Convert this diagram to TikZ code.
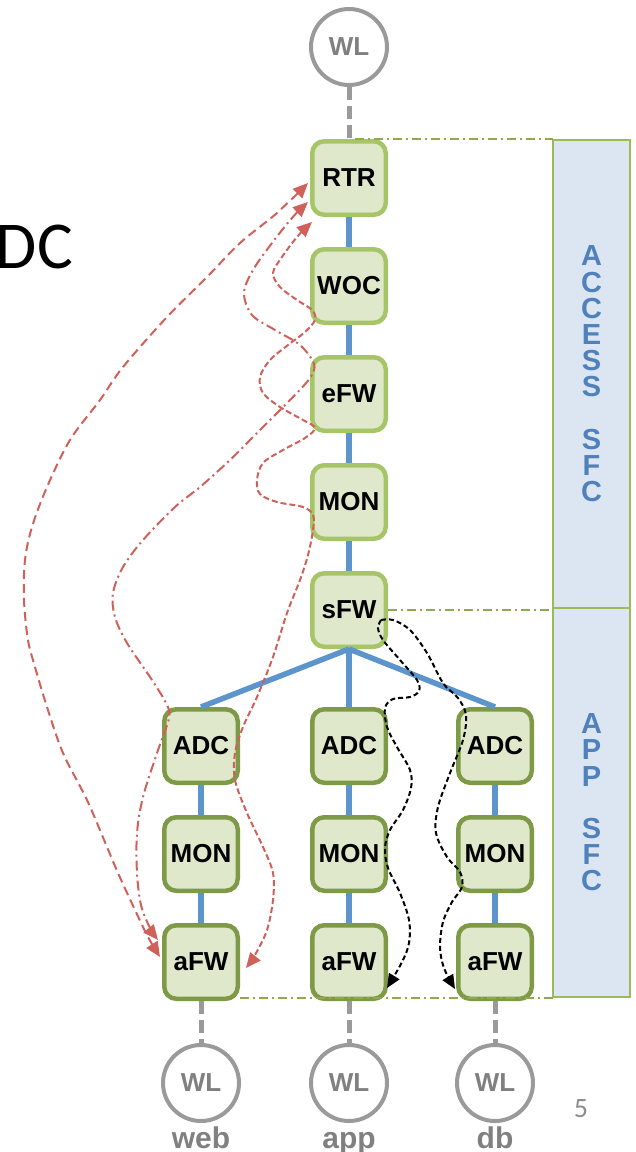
\documentclass[tikz,border=0pt]{standalone}
\usepackage{fontspec}
\setmainfont{Liberation Sans}
\newfontfamily\dcfont{Carlito}
\usetikzlibrary{arrows.meta}
\definecolor{boxfill}{HTML}{DFE8CB}
\definecolor{accborder}{HTML}{A6C566}
\definecolor{appborder}{HTML}{7E9A46}
\definecolor{linkblue}{HTML}{5B95CC}
\definecolor{redpath}{HTML}{D0605A}
\definecolor{wlgray}{HTML}{9A9A9A}
\definecolor{txtgray}{HTML}{808080}
\definecolor{sidefill}{HTML}{DCE6F2}
\definecolor{sideborder}{HTML}{9BBB59}
\definecolor{sfcblue}{HTML}{4F81BD}
\definecolor{guide}{HTML}{8FAA4E}
\begin{document}
\begin{tikzpicture}[x=1pt,y=-1pt,
  vnf/.style={draw, fill=boxfill, rounded corners=12pt, minimum width=73.5pt, minimum height=73.5pt,
    line width=4.5pt, inner sep=0pt, font=\bfseries\fontsize{26}{30}\selectfont},
  acc/.style={vnf, draw=accborder},
  app/.style={vnf, draw=appborder},
  wl/.style={circle, draw=wlgray, line width=4pt, fill=white, minimum size=76pt, inner sep=0pt,
    text=txtgray, font=\bfseries\fontsize{26}{30}\selectfont},
  link/.style={linkblue, line width=5.5pt},
  wire/.style={wlgray, line width=5pt, dash pattern=on 13pt off 6pt},
  guideline/.style={guide, line width=1.5pt, dash pattern=on 9pt off 4pt on 2pt off 4pt},
  sidebox/.style={draw=sideborder, fill=sidefill, line width=1.5pt, minimum width=77pt, inner sep=0pt, outer sep=0pt,
    align=center, text=sfcblue, font=\bfseries\fontsize{29}{26.2}\selectfont},
  redtip/.style={{Triangle[length=15pt,width=13pt]}-{Triangle[length=15pt,width=13pt]}},
  redlong/.style={redpath, line width=2pt, dash pattern=on 9pt off 5pt, redtip},
  reddot/.style={redpath, line width=2pt, dash pattern=on 10pt off 4pt on 2pt off 4pt, redtip},
  redshort/.style={redpath, line width=2pt, dash pattern=on 6pt off 3pt, redtip},
  blackpath/.style={black, line width=2pt, dash pattern=on 5pt off 3pt, -{Triangle[length=14pt,width=12pt]}},
  wlname/.style={text=txtgray, font=\bfseries\fontsize{30}{34}\selectfont, anchor=base, inner sep=0pt}
]
\useasboundingbox (0,0) rectangle (635,1152);

% side panels
\node[sidebox, minimum height=468pt] (accside) at (591.5,374) {A\\C\\C\\E\\S\\S\\[26.2pt]S\\F\\C};
\node[sidebox, minimum height=389pt] (appside) at (591.5,802.5) {A\\P\\P\\[26.2pt]S\\F\\C};

% title fragment and page number
\node[anchor=base east, inner sep=0pt, font=\dcfont\fontsize{67}{80}\selectfont] (dc) at (73,268) {DC};
\node[anchor=base, inner sep=0pt, text=txtgray!90, font=\dcfont\fontsize{28}{30}\selectfont] (pg) at (581,1117) {5};

% workloads
\node[wl] (WLt) at (349,47) {WL};
\node[wl] (WLl) at (201,1083) {WL};
\node[wl] (WLm) at (349,1083) {WL};
\node[wl] (WLr) at (495,1083) {WL};
\node[wlname] (web) at (201,1148) {web};
\node[wlname] (appl) at (349,1148) {app};
\node[wlname] (db) at (495,1148) {db};

% access chain
\node[acc] (RTR) at (349,178) {RTR};
\node[acc] (WOC) at (349,286) {WOC};
\node[acc] (eFW) at (349,394) {eFW};
\node[acc] (MONa) at (349,502) {MON};
\node[acc] (sFW) at (349,610) {sFW};

% app chains
\node[app] (ADCl) at (201,746) {ADC};
\node[app] (ADCm) at (349,746) {ADC};
\node[app] (ADCr) at (495,746) {ADC};
\node[app] (MONl) at (201,854) {MON};
\node[app] (MONm) at (349,854) {MON};
\node[app] (MONr) at (495,854) {MON};
\node[app] (aFWl) at (201,962) {aFW};
\node[app] (aFWm) at (349,962) {aFW};
\node[app] (aFWr) at (495,962) {aFW};

% guide lines
\draw[guideline] ([xshift=6pt]RTR.north) -- (RTR.north -| accside.west);
\draw[guideline] (sFW.east) -- (sFW.east -| accside.west);
\draw[guideline] ([yshift=3pt]aFWl.south east) -- ([yshift=3pt]aFWl.south east -| appside.west);

% workload wires
\draw[wire] (WLt) -- (RTR);
\draw[wire] (aFWl) -- (WLl);
\draw[wire] (aFWm) -- (WLm);
\draw[wire] (aFWr) -- (WLr);

% blue links
\draw[link] (RTR) -- (WOC);
\draw[link] (WOC) -- (eFW);
\draw[link] (eFW) -- (MONa);
\draw[link] (MONa) -- (sFW);
\draw[link] (sFW.south) -- (ADCl.north);
\draw[link] (sFW.south) -- (ADCm.north);
\draw[link] (sFW.south) -- (ADCr.north);
\draw[link] (ADCl) -- (MONl);
\draw[link] (MONl) -- (aFWl);
\draw[link] (ADCm) -- (MONm);
\draw[link] (MONm) -- (aFWm);
\draw[link] (ADCr) -- (MONr);
\draw[link] (MONr) -- (aFWr);

% path end points
\coordinate (r1a) at (308,183);
\coordinate (r1b) at (160,957);
\coordinate (r2a) at (308,202);
\coordinate (r2b) at (158,940);
\coordinate (r3a) at (312,222);
\coordinate (r3b) at (246,968);
\coordinate (bs) at (381,620);
\coordinate (bAe) at (387,988);
\coordinate (bBe) at (455,989);

% red paths
\draw[redlong] plot[smooth, tension=0.55] coordinates {(r1a) (277,213) (240,243) (207,277) (167,317) (123,367)
  (100,400) (70,440) (47,487) (32,527) (25,560) (24,600) (28,640) (35,667) (47,707) (63,753) (87,800)
  (107,847) (118,873) (135,910) (148,937) (r1b)};
\draw[reddot] plot[smooth, tension=0.55] coordinates {(r2a) (292,218) (272,243) (253,270) (244,293) (252,315)
  (275,330) (300,345) (314,364) (310,378) (290,400) (257,433) (230,460) (200,487) (175,507) (143,540)
  (123,567) (113,593) (115,617) (127,643) (150,677) (166,703) (169,718) (157,753) (143,797) (137,833)
  (137,873) (141,905) (150,928) (r2b)};
\draw[redshort] plot[smooth, tension=0.55] coordinates {(r3a) (297,237) (282,257) (273,273) (280,287) (297,300)
  (312,310) (315,320) (305,332) (288,345) (270,360) (260,377) (263,393) (280,407) (303,420) (315,428)
  (305,438) (283,450) (263,463) (257,480) (260,494) (277,502) (303,507) (313,515) (313,530) (308,555)
  (300,580) (287,613) (273,657) (257,697) (243,727) (235,753) (235,780) (247,813) (263,847) (273,873)
  (273,900) (267,930) (255,955) (r3b)};

% black paths
\draw[blackpath] plot[smooth, tension=0.55] coordinates {(bs) (378,628) (383,640) (400,660) (417,680) (419,691)
  (410,697) (393,699) (385,708) (387,727) (397,747) (410,770) (411,788) (403,810) (390,830) (385,848)
  (388,868) (400,893) (409,920) (409,943) (402,962) (bAe)};
\draw[blackpath] plot[smooth, tension=0.55] coordinates {(bs) (393,620) (410,630) (427,653) (443,683) (458,698)
  (466,715) (463,740) (450,773) (438,807) (436,833) (447,857) (460,872) (462,887) (452,902) (443,922)
  (440,947) (444,968) (bBe)};
\end{tikzpicture}
\end{document}
